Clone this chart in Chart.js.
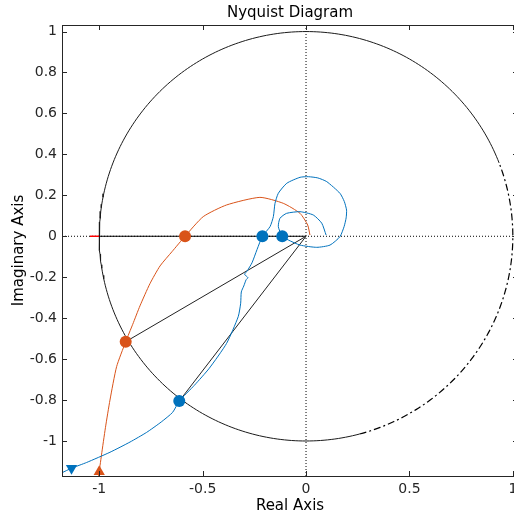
<!DOCTYPE html>
<html>
<head>
<meta charset="utf-8">
<script src="https://cdn.jsdelivr.net/npm/chart.js@4/dist/chart.umd.min.js"></script>
<style>
  html, body { margin: 0; padding: 0; overflow: hidden; background: #fff; }
</style>
</head>
<body>
<canvas id="nyquist" width="580" height="518"></canvas>
<script>
'use strict';

// axis limits and ticks
const xMin = -1.18, xMax = 1.025;
const yMin = -1.171, yMax = 1.032;
const xTicks = [-1, -0.5, 0, 0.5, 1];
const yTicks = [-1, -0.8, -0.6, -0.4, -0.2, 0, 0.2, 0.4, 0.6, 0.8, 1];

// blue response
const blueRe = [-1.18, -1.134, -1.061, -0.948, -0.851, -0.771, -0.700, -0.645, -0.613,
  -0.540, -0.468, -0.384, -0.328, -0.316, -0.313, -0.301, -0.290, -0.281, -0.297, -0.285,
  -0.261, -0.237, -0.211, -0.174, -0.158, -0.150, -0.134, -0.093, -0.029, 0.011, 0.057,
  0.100, 0.164, 0.185, 0.196, 0.194, 0.184, 0.164, 0.116, 0.052, -0.029, -0.086, -0.115,
  -0.134, -0.126, -0.094, -0.029, 0.035, 0.076, 0.097];
const blueIm = [-1.155, -1.133, -1.105, -1.055, -1.005, -0.958, -0.907, -0.860, -0.805,
  -0.728, -0.645, -0.523, -0.393, -0.327, -0.272, -0.243, -0.213, -0.202, -0.186, -0.170,
  -0.129, -0.065, 0, 0.047, 0.096, 0.161, 0.210, 0.259, 0.288, 0.291, 0.285,
  0.267, 0.210, 0.170, 0.128, 0.090, 0.047, -0.002, -0.043, -0.054, -0.043, -0.018, 0,
  0.047, 0.088, 0.112, 0.120, 0.104, 0.064, 0.006];

// orange response
const orangeRe = [-1.003, -0.989, -0.970, -0.948, -0.916, -0.872, -0.838, -0.803, -0.755,
  -0.706, -0.648, -0.585, -0.497, -0.384, -0.223, -0.110, -0.029, 0.008, 0.019];
const orangeIm = [-1.171, -1.068, -0.935, -0.800, -0.637, -0.515, -0.430, -0.340, -0.232,
  -0.145, -0.075, 0, 0.096, 0.153, 0.190, 0.161, 0.112, 0.055, 0.006];

// markers
const blueDotsRe = [-0.211, -0.115, -0.613];
const blueDotsIm = [0, 0, -0.805];
const orangeDotsRe = [-0.585, -0.872];
const orangeDotsIm = [0, -0.515];
const blueStart = [-1.134, -1.133];
const orangeStart = [-1.0, -1.15];

// unit circle: solid arc and dash-dot arc (degrees)
const arcSolid = [21, 285];
const arcDashed = [285, 381];

const blue = '#0072BD';
const orange = '#D95319';
const axisColor = '#262626';

function pts(re, im) { return re.map((v, i) => ({ x: v, y: im[i] })); }
function arc(range) {
  const out = [];
  for (let a = range[0]; a <= range[1]; a += 1) {
    const t = a * Math.PI / 180;
    out.push({ x: Math.cos(t), y: Math.sin(t) });
  }
  return out;
}

const frame = {
  id: 'frame',
  afterDatasetsDraw(chart) {
    const { ctx, chartArea: a, scales: { x, y } } = chart;
    ctx.save();
    ctx.strokeStyle = axisColor;
    ctx.lineWidth = 1;
    ctx.strokeRect(a.left + 0.5, a.top + 0.5, a.right - a.left, a.bottom - a.top);
    ctx.beginPath();
    xTicks.forEach(v => {
      const px = Math.round(x.getPixelForValue(v)) + 0.5;
      ctx.moveTo(px, a.bottom); ctx.lineTo(px, a.bottom - 5);
      ctx.moveTo(px, a.top); ctx.lineTo(px, a.top + 5);
    });
    yTicks.forEach(v => {
      const py = Math.round(y.getPixelForValue(v)) + 0.5;
      ctx.moveTo(a.left, py); ctx.lineTo(a.left + 5, py);
      ctx.moveTo(a.right, py); ctx.lineTo(a.right - 5, py);
    });
    ctx.stroke();
    ctx.restore();
  }
};

const line = (data, color, width, dash, order, tension) => ({
  data, showLine: true, borderColor: color, borderWidth: width, borderDash: dash || [],
  pointRadius: 0, fill: false, tension: tension || 0, order
});
const marker = (data, color, style, radius, rotation, order) => ({
  data, showLine: false, pointStyle: style, pointRadius: radius, pointRotation: rotation,
  backgroundColor: color, borderColor: color, borderWidth: 0, order
});

new Chart(document.getElementById('nyquist'), {
  type: 'scatter',
  data: {
    datasets: [
      marker(pts(blueDotsRe, blueDotsIm), blue, 'circle', 6, 0, 0),
      marker(pts(orangeDotsRe, orangeDotsIm), orange, 'circle', 6, 0, 0),
      marker([{ x: blueStart[0], y: blueStart[1] }], blue, 'triangle', 6.5, 180, 0),
      marker([{ x: orangeStart[0], y: orangeStart[1] }], orange, 'triangle', 6.5, 0, 0),
      line(pts(blueRe, blueIm), blue, 1, null, 1, 0.2),
      line(pts(orangeRe, orangeIm), orange, 1, null, 1, 0.2),
      line([{ x: 0, y: 0 }, { x: orangeDotsRe[1], y: orangeDotsIm[1] }], '#222', 1, null, 2),
      line([{ x: 0, y: 0 }, { x: blueDotsRe[2], y: blueDotsIm[2] }], '#222', 1, null, 2),
      line([{ x: -1, y: 0 }, { x: 0, y: 0 }], '#000', 1.2, null, 2),
      line([{ x: -1.045, y: 0 }, { x: -1.0, y: 0 }], '#ff0000', 1.5, null, 2),
      line(arc(arcSolid), '#1a1a1a', 1, null, 3),
      line(arc(arcDashed), '#000', 1.2, [7, 3, 2, 3], 3),
      line([{ x: xMin, y: 0 }, { x: xMax, y: 0 }], '#000', 1, [1, 2], 4),
      line([{ x: 0, y: yMin }, { x: 0, y: yMax }], '#000', 1, [1, 2], 4)
    ]
  },
  options: {
    responsive: false,
    devicePixelRatio: 1,
    animation: false,
    layout: { padding: 0, autoPadding: false },
    plugins: {
      legend: { display: false },
      tooltip: { enabled: false },
      title: {
        display: true,
        text: 'Nyquist Diagram',
        color: '#000',
        font: { family: 'DejaVu Sans', size: 15, weight: 'normal' },
        padding: { top: 4, bottom: 3 }
      }
    },
    scales: {
      x: {
        type: 'linear', position: 'bottom', min: xMin, max: xMax,
        grid: { display: false, drawTicks: false },
        border: { display: false },
        afterBuildTicks: s => { s.ticks = xTicks.map(v => ({ value: v })); },
        afterFit: s => { s.height = 42; },
        ticks: {
          color: axisColor, padding: 5, maxRotation: 0, autoSkip: false,
          font: { family: 'DejaVu Sans', size: 14 },
          callback: v => String(v)
        },
        title: {
          display: true, text: 'Real Axis', color: '#000',
          font: { family: 'DejaVu Sans', size: 15 },
          padding: { top: 0, bottom: 3 }
        }
      },
      y: {
        type: 'linear', position: 'left', min: yMin, max: yMax,
        grid: { display: false, drawTicks: false },
        border: { display: false },
        afterBuildTicks: s => { s.ticks = yTicks.map(v => ({ value: v })); },
        afterFit: s => { s.width = 62; },
        ticks: {
          color: axisColor, padding: 5, autoSkip: false,
          font: { family: 'DejaVu Sans', size: 14 },
          callback: v => String(v)
        },
        title: {
          display: true, text: 'Imaginary Axis', color: '#000',
          font: { family: 'DejaVu Sans', size: 15 },
          padding: { top: 10, bottom: 0 }
        }
      },
      yr: {
        type: 'linear', position: 'right', min: yMin, max: yMax,
        grid: { display: false, drawTicks: false },
        border: { display: false },
        ticks: { display: false },
        afterFit: s => { s.width = 62; }
      }
    }
  },
  plugins: [frame]
});
</script>
</body>
</html>
